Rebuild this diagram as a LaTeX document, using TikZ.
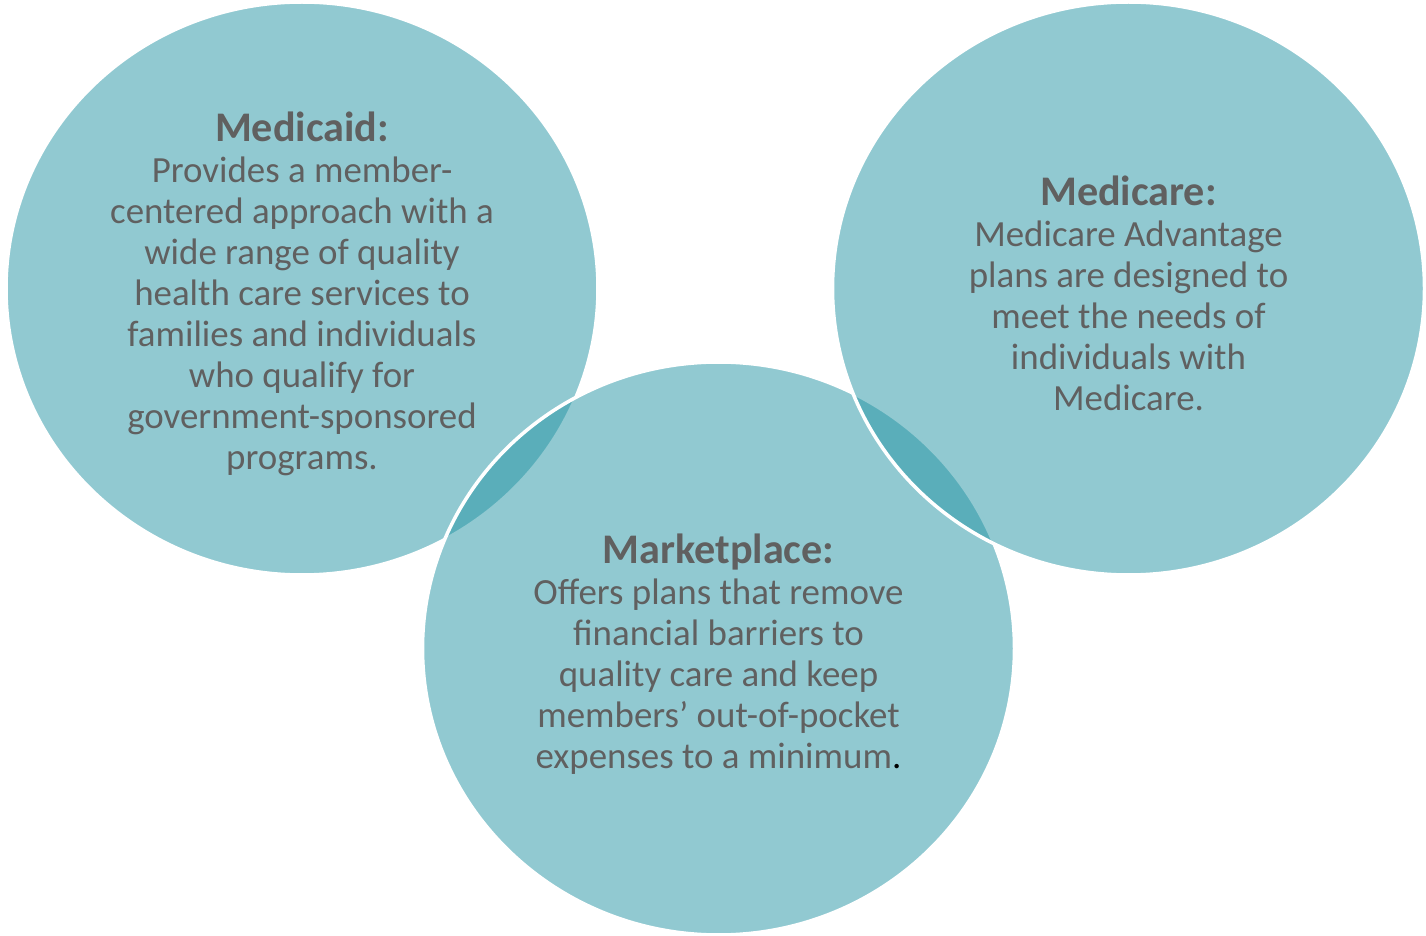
\documentclass[tikz,border=0pt]{standalone}
\usepackage{fontspec}
\setmainfont{Carlito}
\usepackage{tikz}
\usetikzlibrary{shapes.geometric, positioning}

\definecolor{bubble}{RGB}{36,148,164}
\definecolor{bubbletext}{RGB}{96,96,96}

\begin{document}
\begin{tikzpicture}[
    bubble/.style={ellipse, draw=white, line width=2pt, fill=bubble, fill opacity=0.5,
        inner sep=0pt, minimum width=11.84cm, minimum height=11.46cm},
    blurb/.style={align=center, text=bubbletext, text opacity=1,
        font=\fontsize{21}{23.3}\selectfont}]
    \useasboundingbox (0,0) rectangle (28.52,18.7);

    % Bubbles (left, bottom, right)
    \node[bubble] (caid) at (6.04,12.93) {};
    \node[bubble] (market) at (14.37,5.73) {};
    \node[bubble] (care) at (22.57,12.93) {};

    % Medicaid
    \node[blurb] (caidtxt) at ([yshift=-0.11cm]caid.center) {{\bfseries\fontsize{24}{23.3}\selectfont Medicaid:}\\
        Provides a member-\\centered approach with a\\wide range of quality\\health care services to\\
        families and individuals\\who qualify for\\government-sponsored\\programs.};

    % Medicare
    \node[blurb] (caretxt) at ([yshift=-0.09cm]care.center) {{\bfseries\fontsize{24}{23.3}\selectfont Medicare:}\\
        Medicare Advantage\\plans are designed to\\meet the needs of\\individuals with\\Medicare.};

    % Marketplace
    \node[blurb] (markettxt) at ([yshift=-0.11cm]market.center) {{\bfseries\fontsize{24}{23.3}\selectfont Marketplace:}\\
        Offers plans that remove\\financial barriers to\\quality care and keep\\members’ out-of-pocket\\
        expenses to a minimum{\color{black}.}};
\end{tikzpicture}
\end{document}
